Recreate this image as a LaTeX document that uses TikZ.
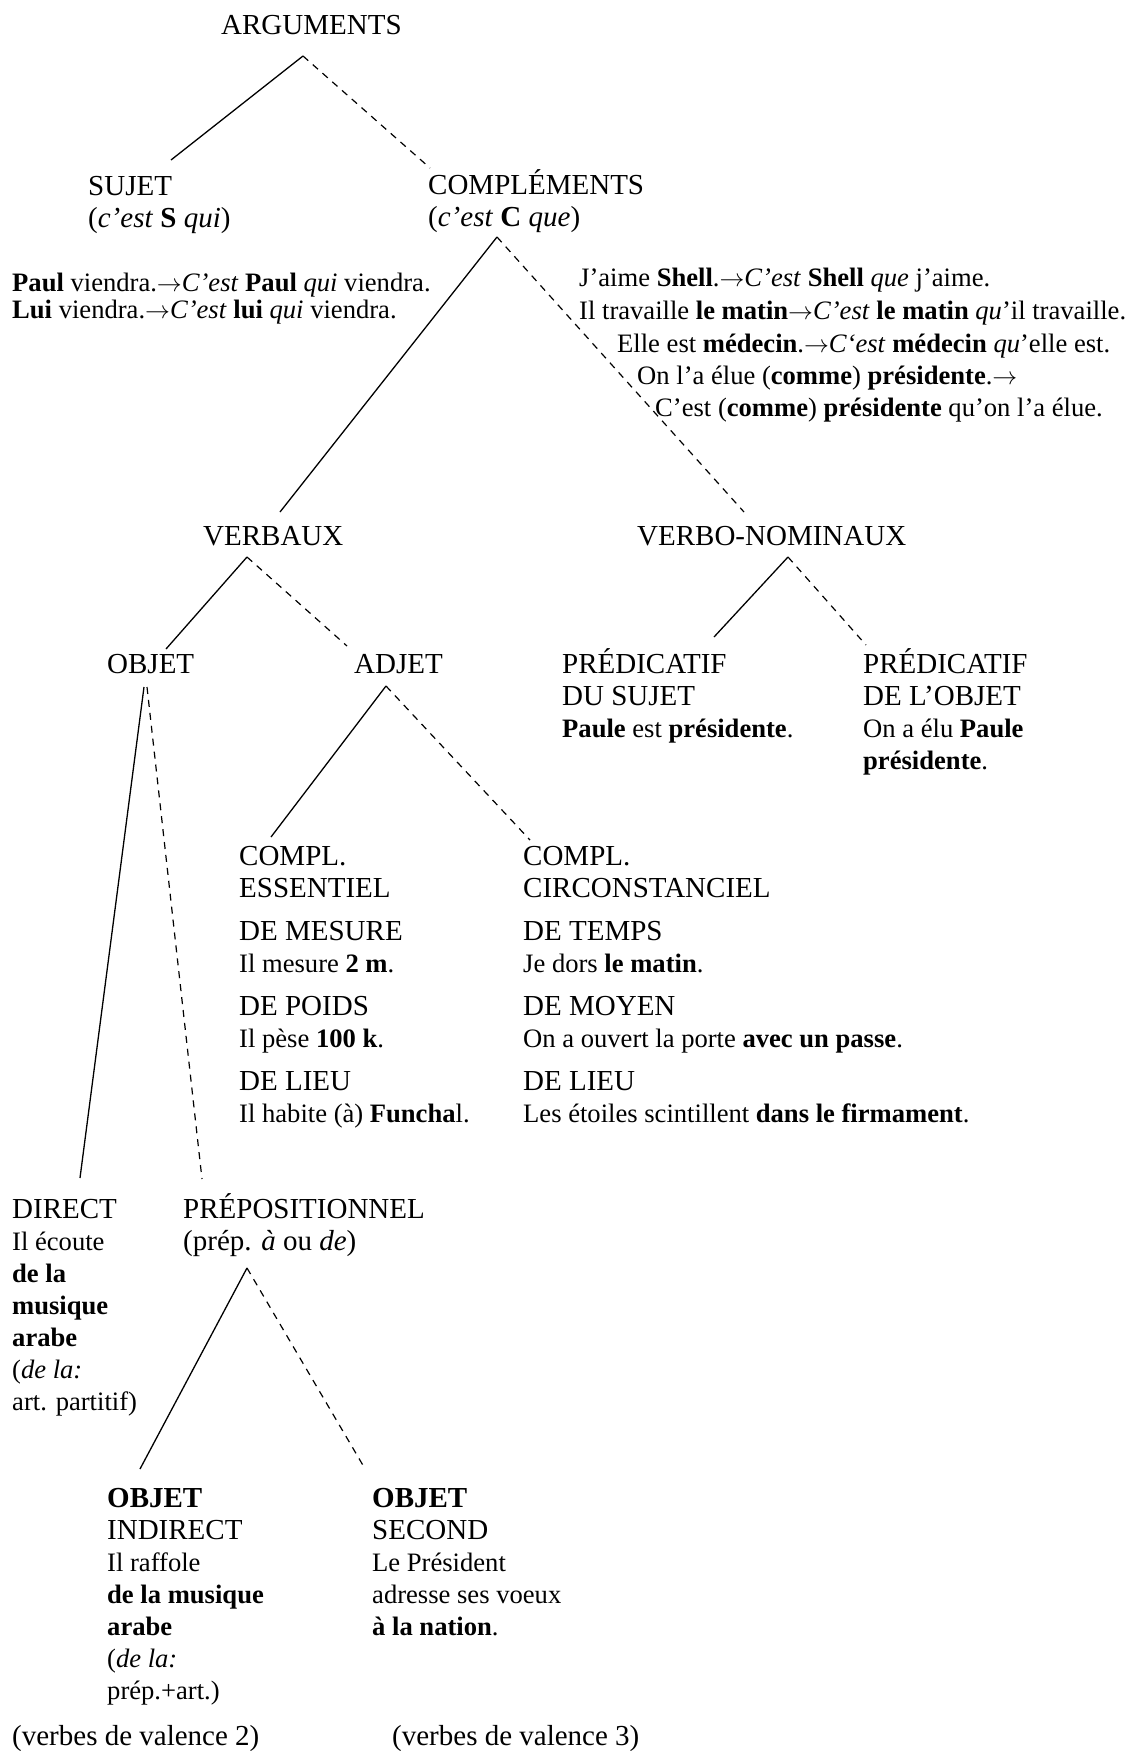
\documentclass[tikz,border=0pt]{standalone}
\usepackage{fontspec}
\setmainfont{Liberation Serif}
\usepackage{tikz}
\newcommand{\hd}{\fontsize{29}{32}\selectfont}
\newcommand{\ex}{\fontsize{26.6}{32}\selectfont}
\newcommand{\fl}{$\rightarrow$}
\tikzstyle{term} = [anchor=base west, inner sep=0pt, align=left, font=\hd]
\tikzstyle{gloss} = [anchor=base west, inner sep=0pt, align=left, font=\ex]
\tikzstyle{branch} = [draw, line width=1.3pt]
\tikzstyle{altbranch} = [draw, line width=1.2pt, dash pattern=on 7pt off 6pt]

\begin{document}
\begin{tikzpicture}[x=1pt,y=-1pt]
    \useasboundingbox (0,0) rectangle (1135,1751);
    %   multi-line nodes sit on the baseline of their last line

        \node[term] (Args) at (221,34) {ARGUMENTS};
        \node[term] (Sujet) at (88,227) {SUJET\\(\textit{c’est} \textbf{S} \textit{qui})};
        \node[term] (Compl) at (428,226) {COMPLÉMENTS\\(\textit{c’est} \textbf{C} \textit{que})};

        \node[gloss, font=\fontsize{26.6}{27}\selectfont] (SujetEx) at (12,318) {\textbf{Paul} viendra.\fl\textit{C’est} \textbf{Paul} \textit{qui} viendra.\\\textbf{Lui} viendra.\fl\textit{C’est} \textbf{lui} \textit{qui} viendra.};
        \node[gloss] (ComplEx1) at (579,286) {J’aime \textbf{Shell}.\fl\textit{C’est} \textbf{Shell} \textit{que} j’aime.};
        \node[gloss] (ComplEx2) at (579,319) {Il travaille \textbf{le matin}\fl\textit{C’est} \textbf{le matin} \textit{qu}’il travaille.};
        \node[gloss] (ComplEx3) at (617,352) {Elle est \textbf{médecin}.\fl\textit{C‘est} \textbf{médecin} \textit{qu}’elle est.};
        \node[gloss] (ComplEx4) at (637,384) {On l’a élue (\textbf{comme}) \textbf{présidente}.\fl};
        \node[gloss] (ComplEx5) at (655,416) {C’est (\textbf{comme}) \textbf{présidente} qu’on l’a élue.};

        \node[term] (Verbaux) at (203,545) {VERBAUX};
        \node[term] (VerbNom) at (637,545) {VERBO-NOMINAUX};
        \node[term] (Objet) at (107,673) {OBJET};
        \node[term] (Adjet) at (354,673) {ADJET};
        \node[term] (PredSujet) at (562,737) {PRÉDICATIF\\DU SUJET\\{\ex\textbf{Paule} est \textbf{présidente}.}};
        \node[term] (PredObjet) at (863,769) {PRÉDICATIF\\DE L’OBJET\\{\ex On a élu \textbf{Paule}}\\{\ex\textbf{présidente}.}};

        % les deux colonnes d'adjets
        \node[term, font=\fontsize{29}{31.7}\selectfont] (Essentiel) at (239,1122) {COMPL.\\ESSENTIEL\\[11.5pt]DE MESURE\\{\ex Il mesure \textbf{2 m}.}\\[11.5pt]DE POIDS\\{\ex Il pèse \textbf{100 k}.}\\[11.5pt]DE LIEU\\{\ex Il habite (à) \textbf{Funcha}l.}};
        \node[term, font=\fontsize{29}{31.7}\selectfont] (Circonst) at (523,1122) {COMPL.\\CIRCONSTANCIEL\\[11.5pt]DE TEMPS\\{\ex Je dors \textbf{le matin}.}\\[11.5pt]DE MOYEN\\{\ex On a ouvert la porte \textbf{avec un passe}.}\\[11.5pt]DE LIEU\\{\ex Les étoiles scintillent \textbf{dans le firmament}.}};

        \node[term] (Direct) at (12,1410) {DIRECT\\{\ex Il écoute}\\{\ex\bfseries de la}\\{\ex\bfseries musique}\\{\ex\bfseries arabe}\\{\ex(\textit{de la:}}\\{\ex art. partitif)}};
        \node[term] (Prep) at (183,1250) {PRÉPOSITIONNEL\\(prép. \textit{à} ou \textit{de})};
        \node[term] (ObjIndirect) at (107,1699) {\textbf{OBJET}\\INDIRECT\\{\ex Il raffole}\\{\ex\bfseries de la musique}\\{\ex\bfseries arabe}\\{\ex(\textit{de la:}}\\{\ex prép.+art.)}};
        \node[term] (ObjSecond) at (372,1635) {\textbf{OBJET}\\SECOND\\{\ex Le Président}\\{\ex adresse ses voeux}\\{\ex\textbf{à la nation}.}};
        \node[term] (Valence2) at (12,1745) {(verbes de valence 2)};
        \node[term] (Valence3) at (392,1745) {(verbes de valence 3)};

        % pieds et tetes des branches
        \coordinate (ArgsFoot) at (303,56);
        \coordinate (SujetHead) at (171,160);
        \coordinate (ComplHead) at (430,168);
        \coordinate (ComplFoot) at (497,237);
        \coordinate (VerbauxHead) at (280,512);
        \coordinate (VerbNomHead) at (744,512);
        \coordinate (VerbauxFoot) at (247,557);
        \coordinate (ObjetHead) at (166,649);
        \coordinate (AdjetHead) at (347,646);
        \coordinate (VerbNomFoot) at (788,557);
        \coordinate (PredSujetHead) at (714,637);
        \coordinate (PredObjetHead) at (866,645);
        \coordinate (ObjetFootA) at (144,687);
        \coordinate (ObjetFootB) at (147,687);
        \coordinate (DirectHead) at (80,1178);
        \coordinate (PrepHead) at (202,1179);
        \coordinate (AdjetFoot) at (386,686);
        \coordinate (EssentielHead) at (271,837);
        \coordinate (CirconstHead) at (530,840);
        \coordinate (PrepFoot) at (247,1268);
        \coordinate (ObjIndirectHead) at (140,1469);
        \coordinate (ObjSecondHead) at (364,1467);

        \path (ArgsFoot)    edge [branch] (SujetHead)
                            edge [altbranch] (ComplHead)
              (ComplFoot)   edge [branch] (VerbauxHead)
                            edge [altbranch] (VerbNomHead)
              (VerbauxFoot) edge [branch] (ObjetHead)
                            edge [altbranch] (AdjetHead)
              (VerbNomFoot) edge [branch] (PredSujetHead)
                            edge [altbranch] (PredObjetHead)
              (ObjetFootA)  edge [branch] (DirectHead)
              (ObjetFootB)  edge [altbranch] (PrepHead)
              (AdjetFoot)   edge [branch] (EssentielHead)
                            edge [altbranch] (CirconstHead)
              (PrepFoot)    edge [branch] (ObjIndirectHead)
                            edge [altbranch] (ObjSecondHead);
\end{tikzpicture}
\end{document}
